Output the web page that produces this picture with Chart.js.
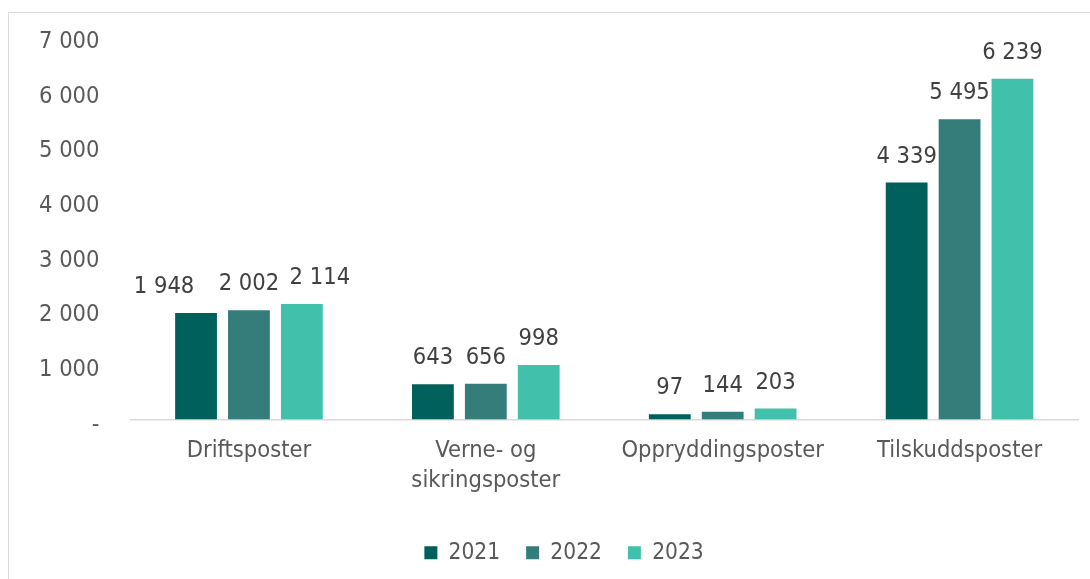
<!DOCTYPE html>
<html>
<head>
<meta charset="utf-8">
<script src="https://cdn.jsdelivr.net/npm/chart.js@4.4.0/dist/chart.umd.min.js"></script>
<style>
    html, body { margin: 0; padding: 0; background: #fff; overflow: hidden; }
    #wrap { position: relative; width: 1090px; height: 579px; }
    #frame {
        position: absolute; left: 8px; top: 12px; width: 1100px; height: 600px;
        border: 1.5px solid #d9d9d9; box-sizing: border-box;
    }
    #chart { position: absolute; left: 0; top: 0; }
</style>
</head>
<body>
<div id="wrap">
    <div id="frame"></div>
    <canvas id="chart" width="1090" height="579"></canvas>
</div>
<script>
// Data
const categories = ['Driftsposter', ['Verne- og', 'sikringsposter'], 'Oppryddingsposter', 'Tilskuddsposter'];
const years = ['2021', '2022', '2023'];
const values2021 = [1948, 643, 97, 4339];
const values2022 = [2002, 656, 144, 5495];
const values2023 = [2114, 998, 203, 6239];
const yTickLabels = ['-', '1 000', '2 000', '3 000', '4 000', '5 000', '6 000', '7 000'];

const colors = ['#00605B', '#347D7A', '#41C1AC'];
const FONT = '"DejaVu Sans Condensed", "DejaVu Sans", sans-serif';

// Labels that were pushed sideways in the original to avoid overlap
const labelNudge = { '0-0': -32, '2-0': 18 };

function formatNumber(v) {
    return String(v).replace(/\B(?=(\d{3})+(?!\d))/g, ' ');
}

// Draws the value above each bar
const barValueLabels = {
    id: 'barValueLabels',
    afterDatasetsDraw(chart) {
        const ctx = chart.ctx;
        ctx.save();
        ctx.font = '23.5px ' + FONT;
        ctx.fillStyle = '#404040';
        ctx.textAlign = 'center';
        ctx.textBaseline = 'middle';
        chart.data.datasets.forEach((ds, i) => {
            const meta = chart.getDatasetMeta(i);
            meta.data.forEach((bar, j) => {
                const dx = labelNudge[i + '-' + j] || 0;
                ctx.fillText(formatNumber(ds.data[j]), bar.x + dx, bar.y - 26);
            });
        });
        ctx.restore();
    }
};

// Legend sits a little right of the canvas centre in the original
const legendShift = {
    id: 'legendShift',
    afterLayout(chart) {
        if (chart.legend) {
            chart.legend.left += 15;
            chart.legend.right += 15;
        }
    }
};

const seriesValues = [values2021, values2022, values2023];

new Chart(document.getElementById('chart'), {
    type: 'bar',
    data: {
        labels: categories,
        datasets: years.map((y, i) => ({
            label: y,
            data: seriesValues[i],
            backgroundColor: colors[i],
            categoryPercentage: 0.67,
            barPercentage: 0.79
        }))
    },
    options: {
        responsive: false,
        animation: false,
        layout: { padding: { top: 34, left: 20, right: 12, bottom: 5 } },
        scales: {
            x: {
                grid: { display: false },
                border: { display: true, color: '#d9d9d9', width: 1.5 },
                ticks: {
                    color: '#595959',
                    font: { family: FONT, size: 23.5, lineHeight: 1.25 },
                    padding: 9,
                    maxRotation: 0,
                    autoSkip: false
                },
                afterFit(scale) { scale.height = 96; }
            },
            y: {
                min: 0,
                max: 7000,
                grid: { display: false },
                border: { display: false },
                ticks: {
                    stepSize: 1000,
                    color: '#595959',
                    font: { family: FONT, size: 23.5 },
                    padding: 23,
                    labelOffset: 5,
                    callback: (v) => yTickLabels[Math.round(v / 1000)]
                },
                afterFit(scale) { scale.width = 110.5; }
            }
        },
        plugins: {
            legend: {
                position: 'bottom',
                labels: {
                    boxWidth: 13,
                    boxHeight: 13,
                    padding: 26,
                    color: '#595959',
                    font: { family: FONT, size: 22.5 }
                }
            },
            tooltip: { enabled: false }
        }
    },
    plugins: [barValueLabels, legendShift]
});
</script>
</body>
</html>
